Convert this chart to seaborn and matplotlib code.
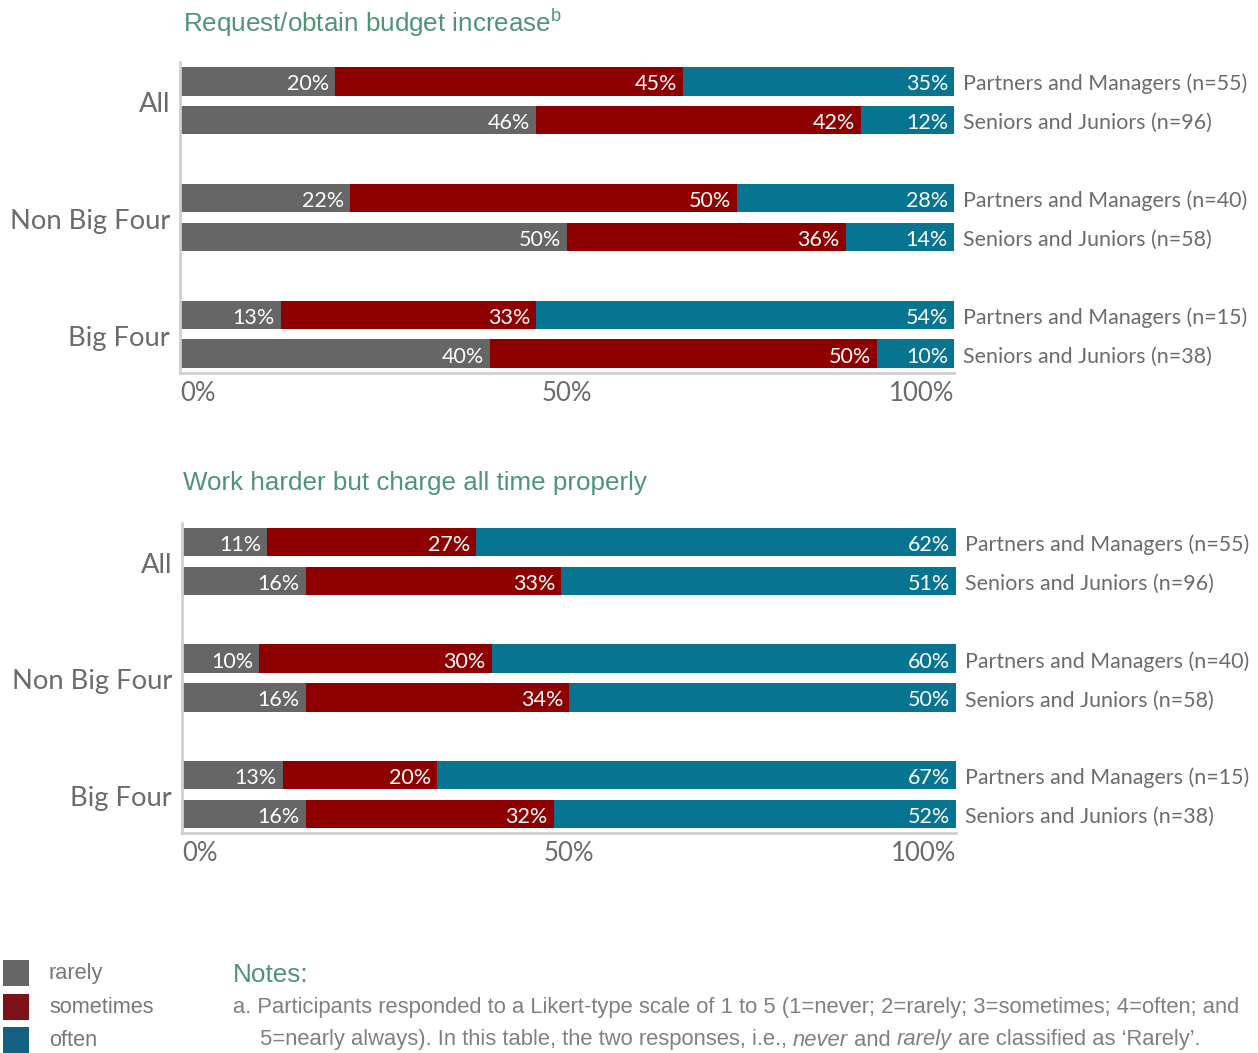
import matplotlib
matplotlib.use("Agg")
import matplotlib.pyplot as plt
from matplotlib.patches import Rectangle
import numpy as np
import pandas as pd
import seaborn as sns

# ---- data -------------------------------------------------------------
groups = ["All", "Non Big Four", "Big Four"]
roles = ["Partners and Managers", "Seniors and Juniors"]
sample_sizes = [55, 96, 40, 58, 15, 38]

budget_rarely = [20, 46, 22, 50, 13, 40]
budget_sometimes = [45, 42, 50, 36, 33, 50]
budget_often = [35, 12, 28, 14, 54, 10]

harder_rarely = [11, 16, 10, 16, 13, 16]
harder_sometimes = [27, 33, 30, 34, 20, 32]
harder_often = [62, 51, 60, 50, 67, 52]

panel_titles = ["Request/obtain budget increase$^{\\mathregular{b}}$",
                "Work harder but charge all time properly"]
x_ticks = [0, 50, 100]
x_tick_labels = ["0%", "50%", "100%"]
legend_labels = ["rarely", "sometimes", "often"]

# ---- style ------------------------------------------------------------
sns.set_theme(style="white")
plt.rcParams["font.family"] = ["Lato", "DejaVu Sans"]

GREY = "#666666"
RED = "#8e0000"
TEAL = "#077491"
TEXT_GREY = "#6b6b6b"
TITLE_GREEN = "#4f9378"
SPINE = "#cfcfcf"

# bar rows: two per group, with a blank row between groups
positions = [0, 1, 3, 4, 6, 7]
row_labels = [f"{roles[i % 2]} (n={n})" for i, n in enumerate(sample_sizes)]

fig = plt.figure(figsize=(12.58, 10.53), dpi=100)
W, H = 1258, 1053


def px_axes(left, top, right, bottom):
    return fig.add_axes([left / W, 1 - bottom / H, (right - left) / W, (bottom - top) / H])


def draw_panel(ax, rarely, sometimes, often):
    rarely = np.array(rarely)
    sometimes = np.array(sometimes)
    often = np.array(often)
    layers = [
        (rarely + sometimes + often, TEAL, often),
        (rarely + sometimes, RED, sometimes),
        (rarely, GREY, rarely),
    ]
    for ends, color, vals in layers:
        df = pd.DataFrame({"value": ends, "row": positions})
        sns.barplot(data=df, x="value", y="row", orient="h", native_scale=True,
                    width=0.74, color=color, saturation=1, errorbar=None,
                    linewidth=0, ax=ax)
        for end, v, pos in zip(ends, vals, positions):
            ax.annotate(f"{v}%", xy=(end, pos), xytext=(-6, -1),
                        textcoords="offset pixels", ha="right",
                        va="center_baseline", color="white", fontsize=15.5)

    ax.set_xlim(0, 100)
    ax.set_ylim(7.49, -0.49)
    ax.set_xlabel("")
    ax.set_ylabel("")
    ax.set_yticks([])
    ax.set_xticks(x_ticks)
    ax.set_xticklabels(x_tick_labels, fontsize=18.5, color=TEXT_GREY)
    labels = ax.get_xticklabels()
    labels[0].set_ha("left")
    labels[-1].set_ha("right")
    ax.tick_params(axis="x", length=0, pad=6)

    for side in ("top", "right"):
        ax.spines[side].set_visible(False)
    for side in ("left", "bottom"):
        ax.spines[side].set_color(SPINE)
        ax.spines[side].set_linewidth(2)

    for gi, g in enumerate(groups):
        ax.annotate(g, xy=(0, positions[2 * gi] + 0.55),
                    xycoords=("axes fraction", "data"), xytext=(-10, -2),
                    textcoords="offset pixels", ha="right", va="center",
                    fontsize=19.7, color=TEXT_GREY)
    for lbl, pos in zip(row_labels, positions):
        ax.annotate(lbl, xy=(1, pos), xycoords=("axes fraction", "data"),
                    xytext=(9, -1), textcoords="offset pixels", ha="left",
                    va="center_baseline", fontsize=15.4, color=TEXT_GREY)


ax1 = px_axes(180, 62, 954, 373)
draw_panel(ax1, budget_rarely, budget_sometimes, budget_often)
ax2 = px_axes(182, 523, 956, 833)
draw_panel(ax2, harder_rarely, harder_sometimes, harder_often)

title_font = ["Liberation Sans", "DejaVu Sans"]
fig.text(183 / W, 1 - 23 / H, panel_titles[0], fontsize=18.7, color=TITLE_GREEN,
         family=title_font, va="center", ha="left")
fig.text(183 / W, 1 - 483 / H, panel_titles[1], fontsize=18.7, color=TITLE_GREEN,
         family=title_font, va="center", ha="left")

# ---- legend -----------------------------------------------------------
legend_colors = [GREY, "#7a1216", "#14617f"]
for i, (lab, col) in enumerate(zip(legend_labels, legend_colors)):
    top = 960 + i * 33.5
    fig.add_artist(Rectangle((3 / W, 1 - (top + 26) / H), 26 / W, 26 / H,
                             transform=fig.transFigure, color=col, lw=0))
    fig.text(49 / W, 1 - (top + 14) / H, lab, fontsize=15.7, color="#777777",
             family=title_font, va="center", ha="left")

# ---- notes ------------------------------------------------------------
fig.text(233 / W, 1 - 975 / H, "Notes:", fontsize=18.8, color=TITLE_GREEN,
         family=title_font, va="center", ha="left")
note_line1 = ("a. Participants responded to a Likert-type scale of 1 to 5 "
              "(1=never; 2=rarely; 3=sometimes; 4=often; and")
fig.text(233 / W, 1 - 1008 / H, note_line1, fontsize=15.8, color="#808080",
         family=title_font, va="center", ha="left")

note_line2 = [
    ("5=nearly always). In this table, the two responses, i.e., ", "normal"),
    ("never", "italic"),
    (" and ", "normal"),
    ("rarely", "italic"),
    (" are classified as \u2018Rarely\u2019.", "normal"),
]
fig.canvas.draw()
renderer = fig.canvas.get_renderer()
x = 260
for piece, style in note_line2:
    t = fig.text(x / W, 1 - 1040 / H, piece, fontsize=15.8, color="#808080",
                 family=title_font, style=style, va="center", ha="left")
    bb = t.get_window_extent(renderer=renderer)
    x += bb.width

fig.savefig("out.png", dpi=100)
